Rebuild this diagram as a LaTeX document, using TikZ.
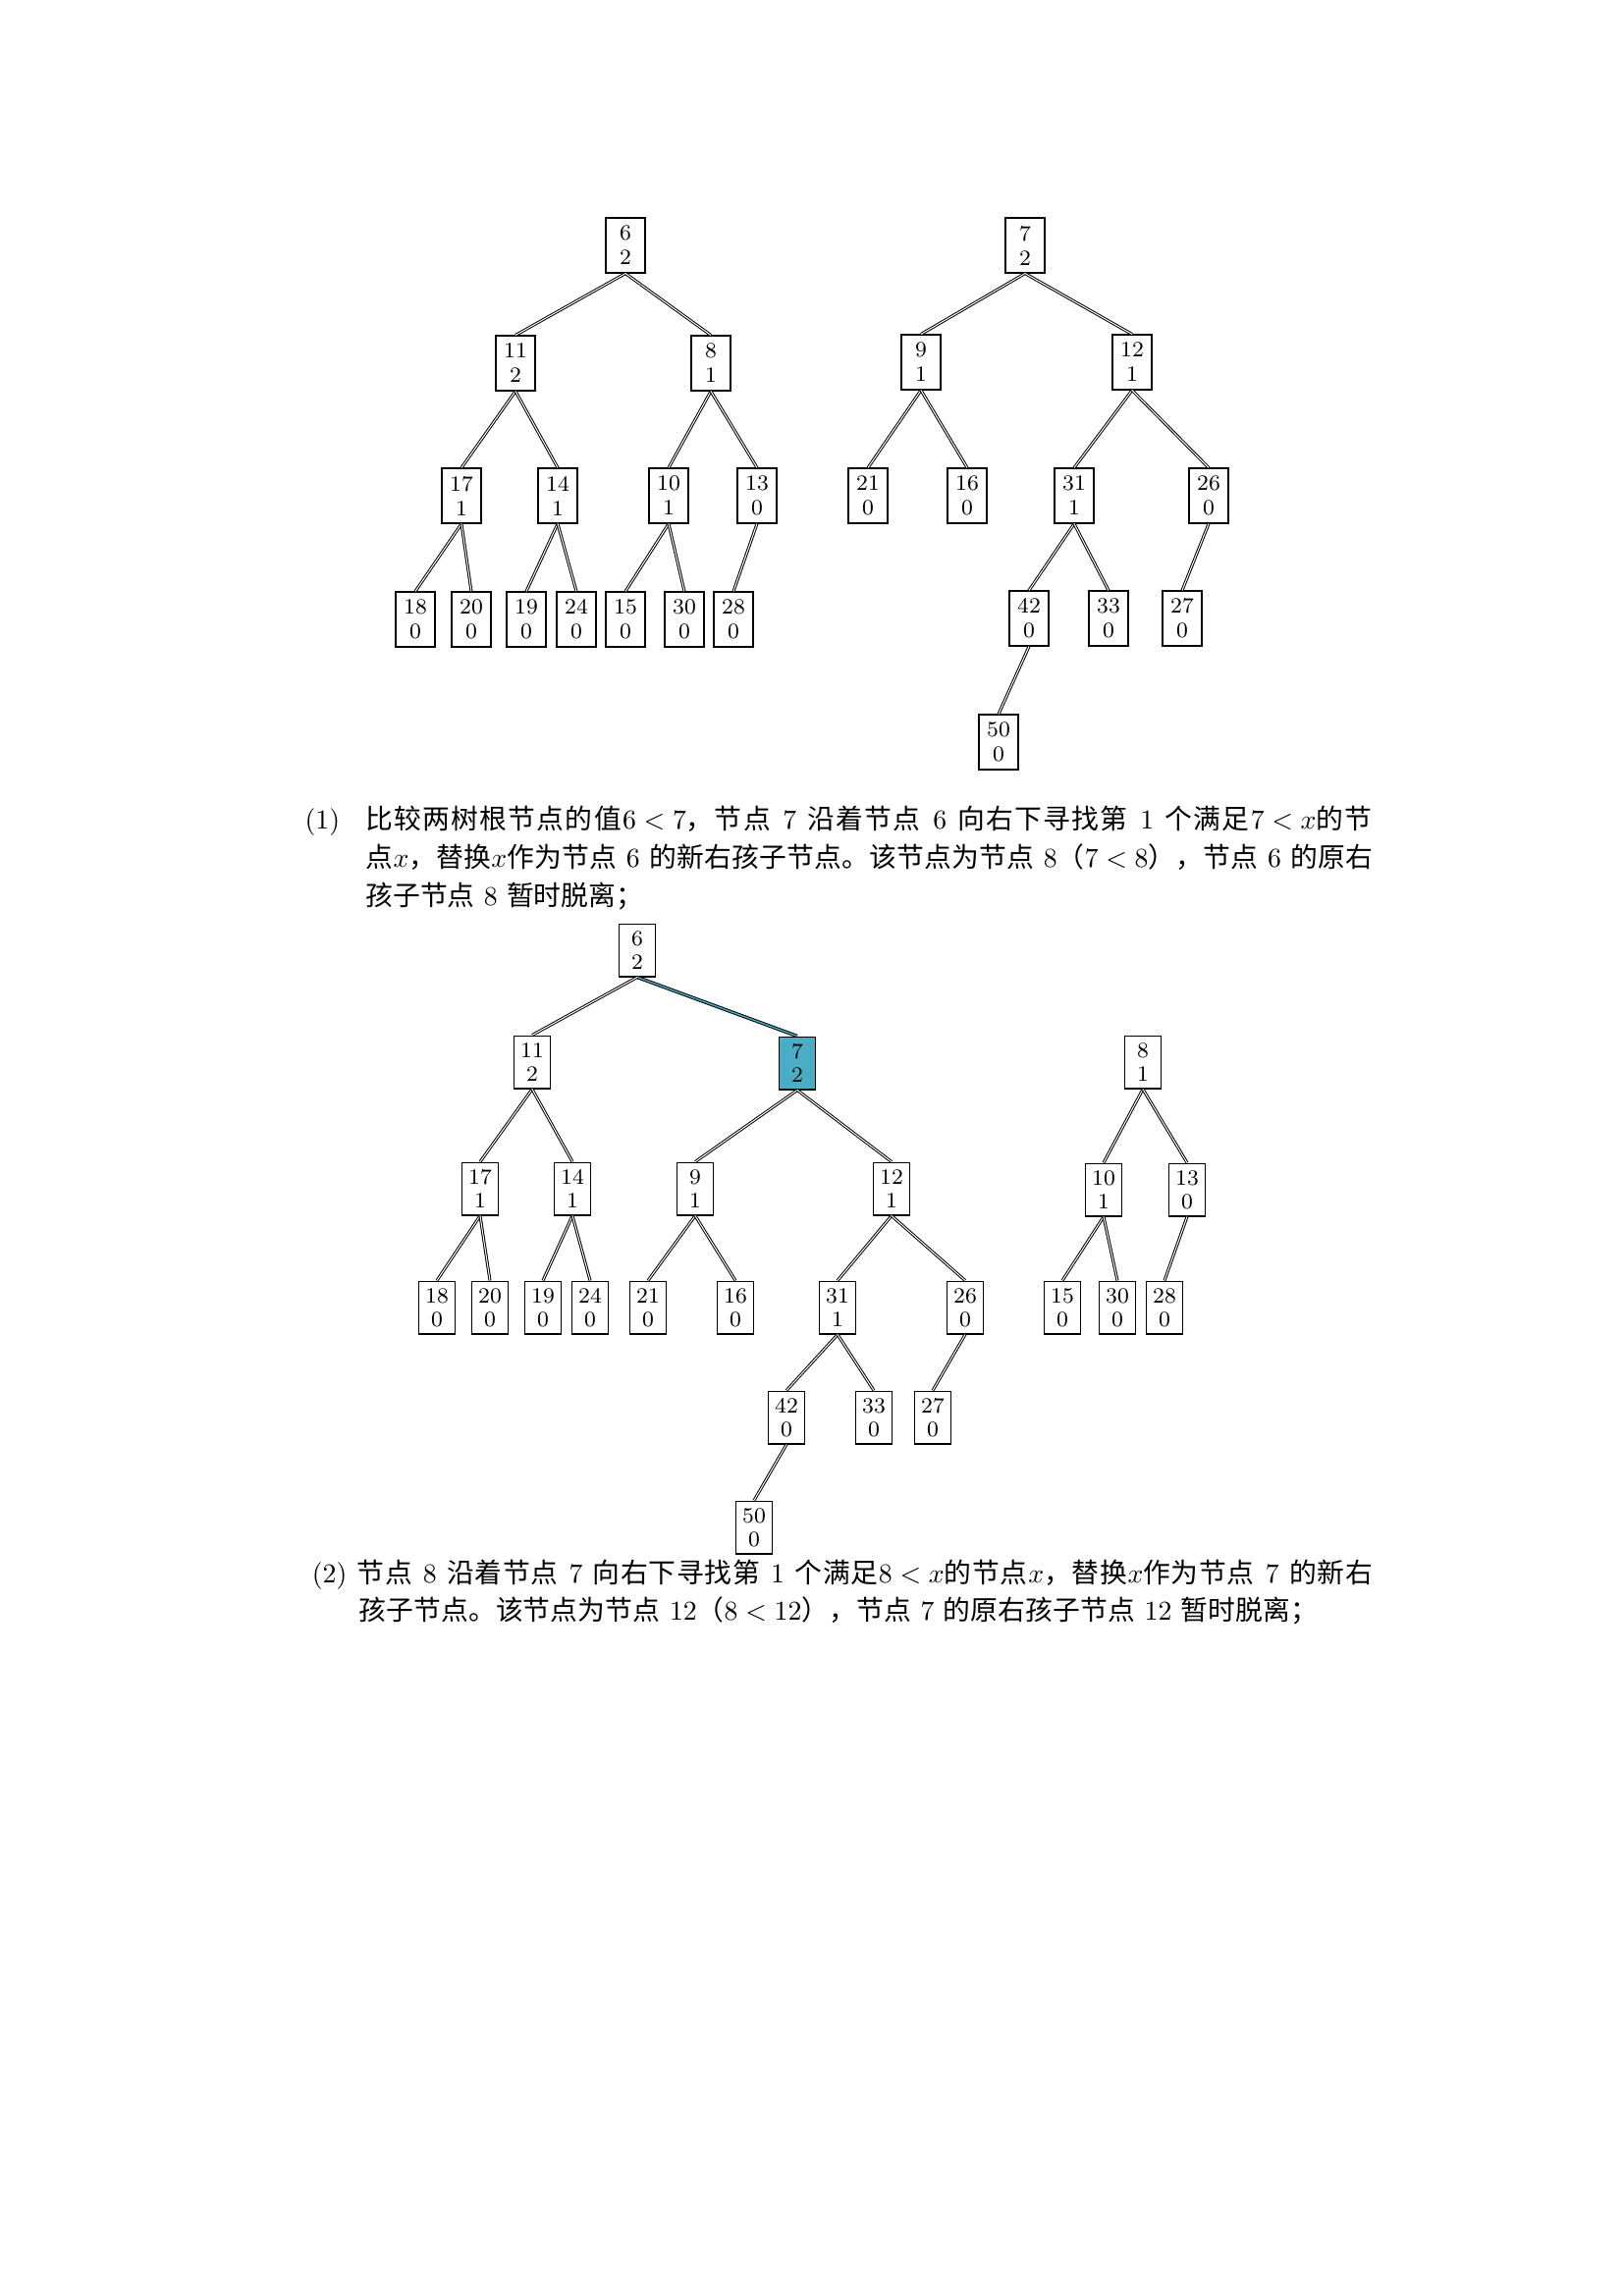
\documentclass[tikz,border=0pt]{standalone}
\usepackage{fontspec}
\newfontfamily\cjk{Noto Sans CJK SC}
\def\zhloop#1{\ifx#1\relax\else#1\hskip0pt plus 1pt\relax\expandafter\zhloop\fi}
\newcommand\zh[1]{{\cjk\zhloop#1\relax}}
\definecolor{hl}{RGB}{75,172,198}
\thickmuskip=5mu
\begin{document}
\begin{tikzpicture}[x=0.3599pt,y=-0.3599pt,
  bx/.style={draw, line width=0.4pt, rectangle, inner sep=0pt, align=center},
  ta/.style={bx, minimum width=14.4pt, minimum height=20.15pt, font=\fontsize{8}{9}\selectfont},
  tc/.style={bx, minimum width=13.6pt, minimum height=19.4pt, font=\fontsize{8}{8.6}\selectfont},
  ed/.style={draw, line width=0.36pt, double=white, double distance=0.36pt},
  edh/.style={draw, line width=0.36pt, double=hl, double distance=0.5pt},
  txt/.style={anchor=base west, inner sep=0pt, font=\fontsize{10}{12}\selectfont}
]
\useasboundingbox (0,0) rectangle (1654,2339);

% ---------- tree 1 left ----------
\node[ta] (p6)  at (637,250) {6\\2};
\node[ta] (p11) at (525,370) {11\\2};
\node[ta] (p8)  at (724,370) {8\\1};
\node[ta] (p17) at (470,505) {17\\1};
\node[ta] (p14) at (568,505) {14\\1};
\node[ta] (p10) at (681,505) {10\\1};
\node[ta] (p13) at (771,505) {13\\0};
\node[ta] (p18) at (423,631) {18\\0};
\node[ta] (p20) at (480,631) {20\\0};
\node[ta] (p19) at (536,631) {19\\0};
\node[ta] (p24) at (587,631) {24\\0};
\node[ta] (p15) at (637,631) {15\\0};
\node[ta] (p30) at (697,631) {30\\0};
\node[ta] (p28) at (747,631) {28\\0};
\foreach \a/\b in {p6/p11,p6/p8,p11/p17,p11/p14,p8/p10,p8/p13,p17/p18,p17/p20,p14/p19,p14/p24,p10/p15,p10/p30,p13/p28}
  \draw[ed] (\a.south) -- (\b.north);

% ---------- tree 1 right ----------
\node[ta] (q7)  at (1044,250) {7\\2};
\node[ta] (q9)  at (938,369)  {9\\1};
\node[ta] (q12) at (1153,369) {12\\1};
\node[ta] (q21) at (884,505)  {21\\0};
\node[ta] (q16) at (985,505)  {16\\0};
\node[ta] (q31) at (1094,505) {31\\1};
\node[ta] (q26) at (1231,505) {26\\0};
\node[ta] (q42) at (1048,630) {42\\0};
\node[ta] (q33) at (1129,630) {33\\0};
\node[ta] (q27) at (1204,630) {27\\0};
\node[ta] (q50) at (1017,756) {50\\0};
\foreach \a/\b in {q7/q9,q7/q12,q9/q21,q9/q16,q12/q31,q12/q26,q31/q42,q31/q33,q26/q27,q42/q50}
  \draw[ed] (\a.south) -- (\b.north);

% ---------- text (1) ----------
\node[txt] (n1) at (310,844) {(1)};
\node[txt] (l1a) at (372,844) {\makebox[369.3pt][s]{\zh{比较两树根节点的值}$6<7$\zh{，节点} 7 \zh{沿着节点} 6 \zh{向右下寻找第} 1 \zh{个满足}$7<x$\zh{的节}}};
\node[txt] (l1b) at (372,883) {\makebox[369.3pt][s]{\zh{点}$x$\zh{，替换}$x$\zh{作为节点} 6 \zh{的新右孩子节点。该节点为节点} 8\zh{（}$7<8$\zh{），节点} 6 \zh{的原右}}};
\node[txt] (l1c) at (372,922) {\zh{孩子节点} 8 \zh{暂时脱离；}};

% ---------- tree 2 ----------
\node[tc] (r6)  at (649,968)  {6\\2};
\node[tc] (r11) at (542,1082) {11\\2};
\node[tc, fill=hl] (r7) at (812,1083) {7\\2};
\node[tc] (r17) at (489,1211) {17\\1};
\node[tc] (r14) at (583,1211) {14\\1};
\node[tc] (r9)  at (708,1211) {9\\1};
\node[tc] (r12) at (908,1211) {12\\1};
\node[tc] (r18) at (445,1332) {18\\0};
\node[tc] (r20) at (499,1332) {20\\0};
\node[tc] (r19) at (553,1332) {19\\0};
\node[tc] (r24) at (601,1332) {24\\0};
\node[tc] (r21) at (660,1332) {21\\0};
\node[tc] (r16) at (749,1332) {16\\0};
\node[tc] (r31) at (853,1332) {31\\1};
\node[tc] (r26) at (983,1332) {26\\0};
\node[tc] (r42) at (801,1444) {42\\0};
\node[tc] (r33) at (890,1444) {33\\0};
\node[tc] (r27) at (950,1444) {27\\0};
\node[tc] (r50) at (768,1556) {50\\0};
\draw[edh] (r6.south) -- (r7.north);
\foreach \a/\b in {r6/r11,r11/r17,r11/r14,r17/r18,r17/r20,r14/r19,r14/r24,r7/r9,r7/r12,r9/r21,r9/r16,r12/r31,r12/r26,r31/r42,r31/r33,r26/r27,r42/r50}
  \draw[ed] (\a.south) -- (\b.north);

% ---------- detached tree 8 ----------
\node[tc] (s8)  at (1164,1082) {8\\1};
\node[tc] (s10) at (1124,1212) {10\\1};
\node[tc] (s13) at (1209,1212) {13\\0};
\node[tc] (s15) at (1082,1332) {15\\0};
\node[tc] (s30) at (1138,1332) {30\\0};
\node[tc] (s28) at (1186,1332) {28\\0};
\foreach \a/\b in {s8/s10,s8/s13,s10/s15,s10/s30,s13/s28}
  \draw[ed] (\a.south) -- (\b.north);

% ---------- text (2) ----------
\node[txt, anchor=base east] (n2) at (354,1612) {(2)};
\node[txt] (l2a) at (363,1612) {\makebox[372.5pt][s]{\zh{节点} 8 \zh{沿着节点} 7 \zh{向右下寻找第} 1 \zh{个满足}$8<x$\zh{的节点}$x$\zh{，替换}$x$\zh{作为节点} 7 \zh{的新右}}};
\node[txt] (l2b) at (365,1650) {\makebox[351.6pt][s]{\zh{孩子节点。该节点为节点} 12\zh{（}$8<12$\zh{），节点} 7 \zh{的原右孩子节点} 12 \zh{暂时脱离；}}};
\end{tikzpicture}
\end{document}
